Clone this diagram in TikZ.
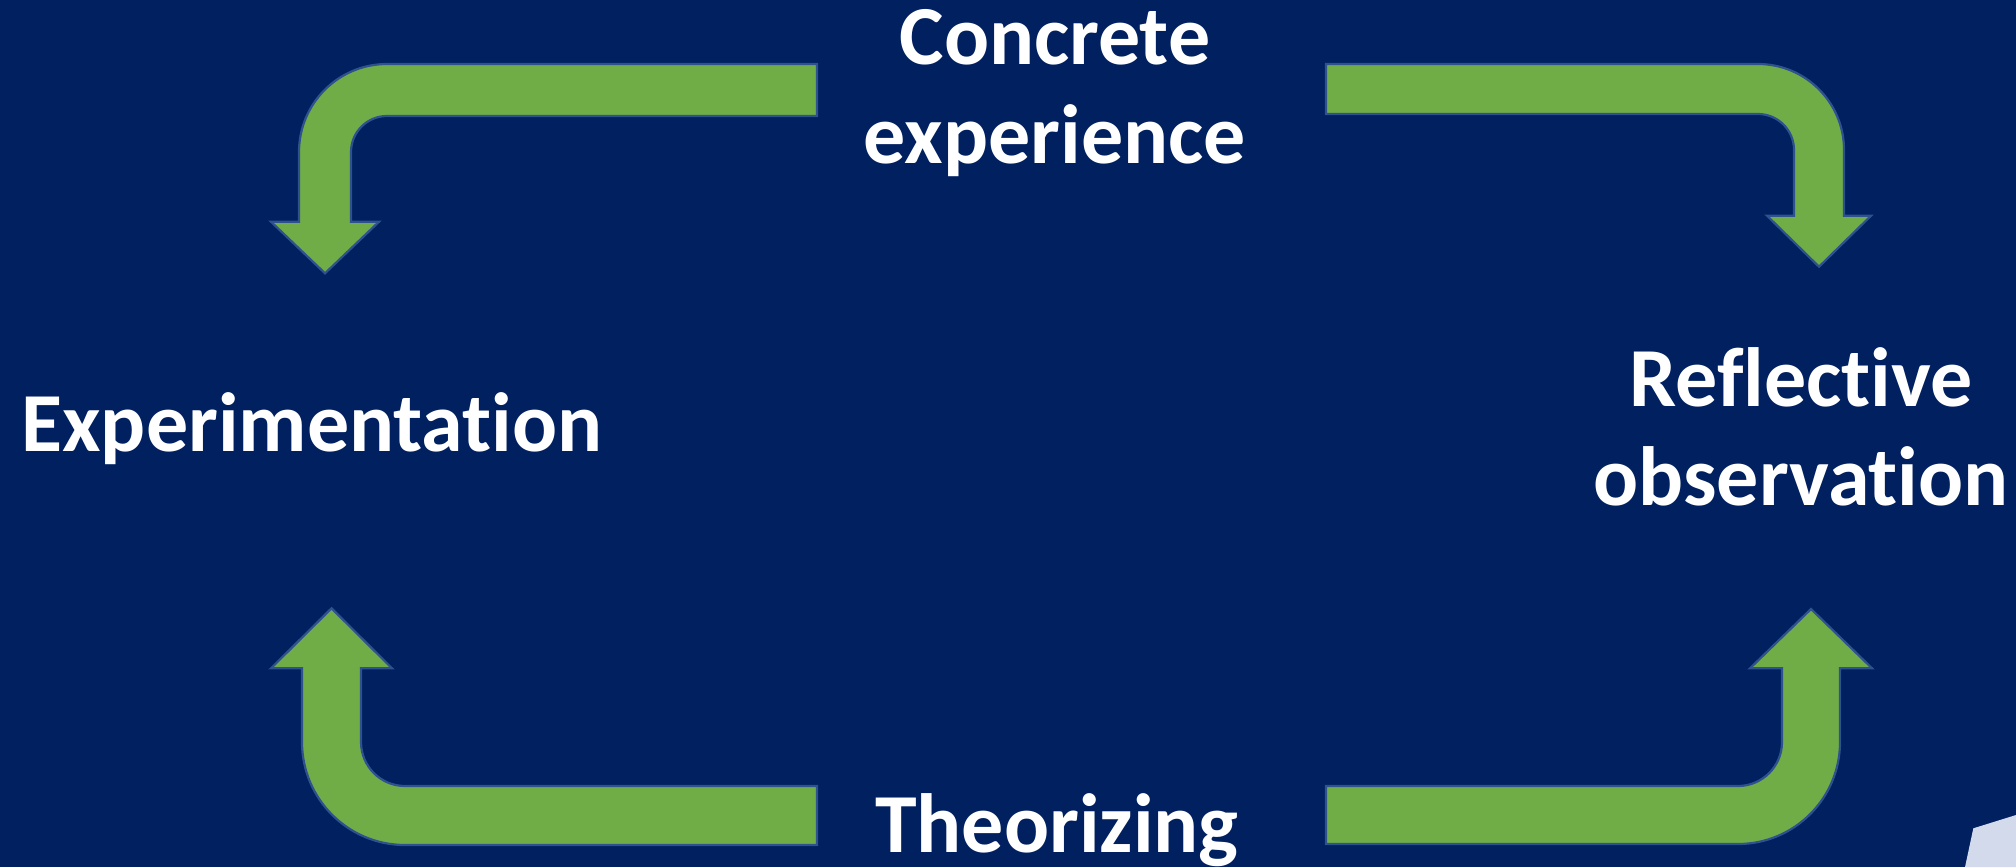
\documentclass[tikz,border=0pt]{standalone}
\usepackage{fontspec}
\setmainfont{Carlito}[Ligatures=NoCommon]
\definecolor{slidebg}{HTML}{002060}
\definecolor{arrowfill}{HTML}{70AD47}
\definecolor{arrowline}{HTML}{2F528F}
\definecolor{photo}{HTML}{D3DAEB}
\tikzset{
  bentarrow/.style={fill=arrowfill, draw=arrowline, line width=1.1pt, line join=miter},
  stagelabel/.style={text=white, inner sep=0pt, align=center,
    font=\fontsize{42pt}{49.5pt}\selectfont\bfseries},
}
\begin{document}
\begin{tikzpicture}[x=0.5pt, y=-0.5pt]
  % slide background
  \fill[slidebg] (0,0) rectangle (2016,867);
  \useasboundingbox (0,0) rectangle (2016,867);

  % corner of a picture peeking in at the lower right
  \fill[photo] (1973.3,828.3) -- (2016,815) -- (2016,867) -- (1965,867) -- cycle;

  % stage labels (base anchor sits on the last line)
  \node[stagelabel, anchor=base] (concrete) at (1055,163.3) {Concrete\\experience};
  \node[stagelabel, anchor=base] (reflect) at (1801,505) {Reflective\\observation};
  \node[stagelabel, anchor=base] (experiment) at (312,451.7) {Experimentation};
  \node[stagelabel, anchor=base] (theory) at (1057,852.7) {Theorizing};

  % top left: from concrete experience down to experimentation
  \path[bentarrow] (817,64) -- (387,64) arc[start angle=-90, end angle=-180, radius=88]
    -- (299,221.7) -- (271,221.7) -- (325,273.3) -- (379,221.7) -- (351,221.7)
    -- (351,152) arc[start angle=180, end angle=270, radius=36] -- (817,116) -- cycle;

  % top right: from concrete experience down to reflective observation
  \path[bentarrow] (1326,64) -- (1758,64) arc[start angle=-90, end angle=0, radius=86]
    -- (1844,215.7) -- (1871,215.7) -- (1819,266.7) -- (1767,215.7) -- (1794,215.7)
    -- (1794,150) arc[start angle=0, end angle=-90, radius=36] -- (1326,114) -- cycle;

  % bottom left: from theorizing up to experimentation
  \path[bentarrow] (817,845) -- (405,845) arc[start angle=90, end angle=180, radius=103]
    -- (302,668.3) -- (271,668.3) -- (331.5,608.3) -- (392,668.3) -- (361,668.3)
    -- (361,742) arc[start angle=180, end angle=90, radius=44] -- (817,786) -- cycle;

  % bottom right: from theorizing up to reflective observation
  \path[bentarrow] (1326,844) -- (1738,844) arc[start angle=90, end angle=0, radius=102]
    -- (1840,668.3) -- (1872,668.3) -- (1811,609) -- (1750,668.3) -- (1782,668.3)
    -- (1782,742) arc[start angle=0, end angle=90, radius=44] -- (1326,786) -- cycle;
\end{tikzpicture}
\end{document}
